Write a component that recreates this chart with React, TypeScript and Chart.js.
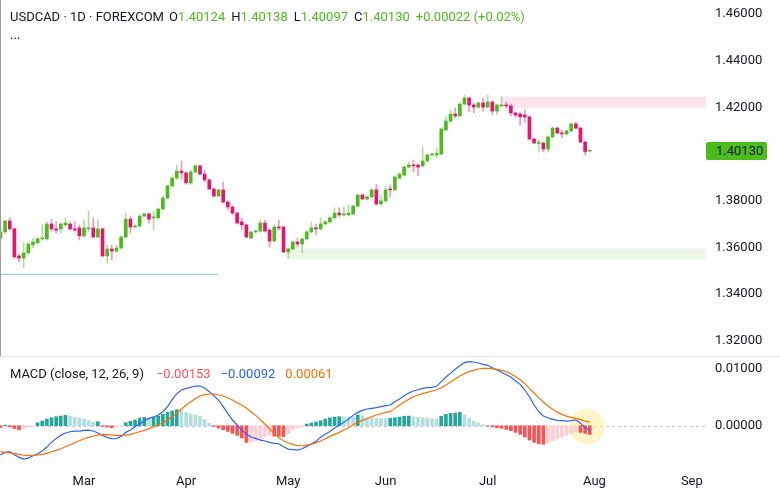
import React, { useEffect, useRef } from 'react';
import { Chart, registerables } from 'chart.js';

Chart.register(...registerables);

// ---------- DATA ----------
const opens = [
  1.3640, 1.3666, 1.3713, 1.3679, 1.3563, 1.3554, 1.3576, 1.3610, 1.3619, 1.3636,
  1.3636, 1.3700, 1.3679, 1.3679, 1.3696, 1.3700, 1.3679, 1.3683, 1.3649, 1.3679,
  1.3683, 1.3644, 1.3679, 1.3563, 1.3593, 1.3584, 1.3597, 1.3644, 1.3721, 1.3687,
  1.3691, 1.3734, 1.3743, 1.3726, 1.3726, 1.3764, 1.3811, 1.3863, 1.3897, 1.3927,
  1.3919, 1.3876, 1.3923, 1.3949, 1.3914, 1.3889, 1.3850, 1.3820, 1.3846, 1.3794,
  1.3773, 1.3747, 1.3709, 1.3696, 1.3640, 1.3666, 1.3670, 1.3704, 1.3674, 1.3627,
  1.3687, 1.3687, 1.3580, 1.3593, 1.3623, 1.3614, 1.3636, 1.3666, 1.3683, 1.3679,
  1.3700, 1.3709, 1.3726, 1.3747, 1.3739, 1.3739, 1.3743, 1.3777, 1.3824, 1.3807,
  1.3816, 1.3846, 1.3786, 1.3799, 1.3850, 1.3846, 1.3897, 1.3910, 1.3944, 1.3953,
  1.3953, 1.3949, 1.3970, 1.3996, 1.3996, 1.4000, 1.4103, 1.4141, 1.4171, 1.4163,
  1.4214, 1.4240, 1.4210, 1.4201, 1.4219, 1.4201, 1.4223, 1.4184, 1.4206, 1.4210,
  1.4206, 1.4176, 1.4171, 1.4167, 1.4159, 1.4064, 1.4045, 1.4047, 1.4021, 1.4073,
  1.4111, 1.4090, 1.4086, 1.4099, 1.4129, 1.4111, 1.4051, 1.40124,
];
const highs = [
  1.3679, 1.3717, 1.3726, 1.3683, 1.3571, 1.3619, 1.3623, 1.3640, 1.3644, 1.3696,
  1.3709, 1.3721, 1.3709, 1.3704, 1.3726, 1.3709, 1.3709, 1.3696, 1.3717, 1.3756,
  1.3726, 1.3717, 1.3683, 1.3610, 1.3610, 1.3610, 1.3649, 1.3747, 1.3734, 1.3696,
  1.3739, 1.3747, 1.3747, 1.3756, 1.3769, 1.3820, 1.3867, 1.3901, 1.3953, 1.3970,
  1.3923, 1.3931, 1.3953, 1.3953, 1.3931, 1.3893, 1.3854, 1.3850, 1.3880, 1.3799,
  1.3777, 1.3751, 1.3726, 1.3700, 1.3670, 1.3674, 1.3717, 1.3717, 1.3679, 1.3696,
  1.3717, 1.3691, 1.3597, 1.3627, 1.3640, 1.3640, 1.3670, 1.3709, 1.3700, 1.3726,
  1.3713, 1.3730, 1.3769, 1.3769, 1.3773, 1.3781, 1.3781, 1.3829, 1.3829, 1.3820,
  1.3850, 1.3871, 1.3824, 1.3863, 1.3867, 1.3906, 1.3919, 1.3949, 1.3966, 1.3974,
  1.3957, 1.4030, 1.4000, 1.4004, 1.4026, 1.4111, 1.4159, 1.4189, 1.4197, 1.4219,
  1.4253, 1.4244, 1.4219, 1.4223, 1.4240, 1.4253, 1.4227, 1.4214, 1.4244, 1.4223,
  1.4214, 1.4180, 1.4180, 1.4189, 1.4163, 1.4069, 1.4060, 1.4051, 1.4077, 1.4116,
  1.4116, 1.4103, 1.4103, 1.4133, 1.4137, 1.4116, 1.4056, 1.40138,
];
const lows = [
  1.3631, 1.3661, 1.3674, 1.3554, 1.3537, 1.3511, 1.3567, 1.3597, 1.3614, 1.3631,
  1.3631, 1.3670, 1.3661, 1.3661, 1.3691, 1.3674, 1.3666, 1.3631, 1.3644, 1.3666,
  1.3640, 1.3640, 1.3559, 1.3533, 1.3546, 1.3580, 1.3593, 1.3640, 1.3661, 1.3683,
  1.3687, 1.3730, 1.3704, 1.3674, 1.3721, 1.3760, 1.3807, 1.3859, 1.3889, 1.3893,
  1.3871, 1.3871, 1.3919, 1.3910, 1.3880, 1.3846, 1.3816, 1.3816, 1.3790, 1.3760,
  1.3739, 1.3700, 1.3674, 1.3640, 1.3636, 1.3661, 1.3666, 1.3666, 1.3601, 1.3623,
  1.3674, 1.3576, 1.3554, 1.3589, 1.3601, 1.3576, 1.3631, 1.3661, 1.3653, 1.3674,
  1.3696, 1.3704, 1.3721, 1.3730, 1.3734, 1.3734, 1.3739, 1.3773, 1.3803, 1.3803,
  1.3811, 1.3781, 1.3781, 1.3794, 1.3816, 1.3841, 1.3893, 1.3906, 1.3940, 1.3923,
  1.3906, 1.3944, 1.3966, 1.3991, 1.3983, 1.3996, 1.4099, 1.4137, 1.4154, 1.4159,
  1.4210, 1.4180, 1.4176, 1.4197, 1.4184, 1.4197, 1.4167, 1.4167, 1.4206, 1.4197,
  1.4163, 1.4159, 1.4124, 1.4137, 1.4060, 1.4043, 1.4009, 1.4009, 1.4009, 1.4069,
  1.4086, 1.4069, 1.4081, 1.4094, 1.4107, 1.4047, 1.3996, 1.40097,
];
const closes = [
  1.3666, 1.3713, 1.3679, 1.3559, 1.3554, 1.3576, 1.3614, 1.3623, 1.3636, 1.3640,
  1.3700, 1.3679, 1.3674, 1.3700, 1.3704, 1.3679, 1.3674, 1.3649, 1.3683, 1.3683,
  1.3644, 1.3679, 1.3563, 1.3593, 1.3584, 1.3597, 1.3644, 1.3721, 1.3687, 1.3691,
  1.3734, 1.3743, 1.3721, 1.3730, 1.3764, 1.3811, 1.3863, 1.3897, 1.3927, 1.3919,
  1.3876, 1.3923, 1.3949, 1.3914, 1.3889, 1.3850, 1.3820, 1.3846, 1.3794, 1.3773,
  1.3747, 1.3704, 1.3696, 1.3644, 1.3666, 1.3670, 1.3704, 1.3670, 1.3627, 1.3687,
  1.3683, 1.3580, 1.3593, 1.3623, 1.3614, 1.3636, 1.3666, 1.3683, 1.3679, 1.3700,
  1.3709, 1.3726, 1.3747, 1.3739, 1.3743, 1.3747, 1.3777, 1.3824, 1.3807, 1.3816,
  1.3846, 1.3786, 1.3799, 1.3846, 1.3846, 1.3901, 1.3914, 1.3944, 1.3953, 1.3949,
  1.3944, 1.3970, 1.3996, 1.4000, 1.4002, 1.4107, 1.4141, 1.4171, 1.4163, 1.4214,
  1.4240, 1.4210, 1.4201, 1.4219, 1.4201, 1.4223, 1.4184, 1.4210, 1.4210, 1.4206,
  1.4176, 1.4167, 1.4159, 1.4159, 1.4064, 1.4047, 1.4047, 1.4021, 1.4073, 1.4111,
  1.4090, 1.4086, 1.4099, 1.4129, 1.4111, 1.4051, 1.40108, 1.40130,
];

const histogram = [
  -0.0003, 0.0001, -0.0002, -0.0005, -0.0007, -0.0004, -0.0002, -0.0001,
  0.00052, 0.00081, 0.00116, 0.00139, 0.00157, 0.00168, 0.00180, 0.00168,
  0.00151, 0.00134, 0.00116, 0.00093, 0.00064, 0.00070, -0.00012, -0.00023,
  -0.00035, -0.00023, -0.00006, 0.00052, 0.00076, 0.00099, 0.00134, 0.00145,
  0.00139, 0.00151, 0.00168, 0.00198, 0.00232, 0.00256, 0.00279, 0.00261,
  0.00227, 0.00203, 0.00186, 0.00163, 0.00105, 0.00046, -0.00012, -0.00041,
  -0.00070, -0.00099, -0.00134, -0.00168, -0.00215, -0.00291, -0.00285, -0.00267,
  -0.00244, -0.00198, -0.00163, -0.00180, -0.00186, -0.00190, -0.00140, -0.00070,
  -0.00040, -0.00020, 0.00029, 0.00046, 0.00064, 0.00087, 0.00116, 0.00139,
  0.00151, 0.00157, 0.00157, 0.00151, 0.00151, 0.00186, 0.00168, 0.00145,
  0.00134, 0.00128, 0.00122, 0.00122, 0.00128, 0.00139, 0.00151, 0.00163,
  0.00168, 0.00157, 0.00145, 0.00139, 0.00128, 0.00122, 0.00116, 0.00163,
  0.00198, 0.00215, 0.00221, 0.00232, 0.00186, 0.00128, 0.00081, 0.00046,
  0.00017, -0.00006, -0.00017, -0.00035, -0.00046, -0.00064, -0.00087, -0.00116,
  -0.00151, -0.00198, -0.00250, -0.00291, -0.00314, -0.00325, -0.00296, -0.00261,
  -0.00227, -0.00198, -0.00168, -0.00139, -0.00105, -0.00116, -0.00134, -0.00153,
];
const macdLine = [
  -0.00511, -0.00465, -0.00453, -0.00505, -0.00552, -0.00581, -0.00564, -0.00523,
  -0.00488, -0.00442, -0.00372, -0.00291, -0.00221, -0.00168, -0.00128, -0.00105,
  -0.00093, -0.00093, -0.00081, -0.00076, -0.00093, -0.00128, -0.00168, -0.00203,
  -0.00227, -0.00227, -0.00186, -0.00116, -0.00076, -0.00017, 0.00035, 0.00087,
  0.00128, 0.00151, 0.00186, 0.00244, 0.00331, 0.00453, 0.00558, 0.00622,
  0.00651, 0.00668, 0.00691, 0.00691, 0.00657, 0.00593, 0.00523, 0.00442,
  0.00331, 0.00215, 0.00099, 0.00012, -0.00076, -0.00145, -0.00198, -0.00221,
  -0.00250, -0.00267, -0.00291, -0.00308, -0.00314, -0.00366, -0.00407, -0.00418,
  -0.00424, -0.00401, -0.00360, -0.00320, -0.00273, -0.00203, -0.00151, -0.00099,
  -0.00041, 0.00006, 0.00058, 0.00116, 0.00180, 0.00232, 0.00267, 0.00291,
  0.00302, 0.00314, 0.00331, 0.00349, 0.00360, 0.00418, 0.00465, 0.00523,
  0.00569, 0.00604, 0.00627, 0.00651, 0.00662, 0.00668, 0.00686, 0.00767,
  0.00848, 0.00912, 0.00982, 0.01046, 0.01098, 0.01116, 0.01110, 0.01092,
  0.01069, 0.01052, 0.01011, 0.00970, 0.00930, 0.00889, 0.00848, 0.00779,
  0.00720, 0.00622, 0.00505, 0.00360, 0.00244, 0.00168, 0.00139, 0.00110,
  0.00093, 0.00087, 0.00081, 0.00087, 0.00099, 0.00041, -0.00029, -0.00092,
];
const signalLine = [
  -0.00453, -0.00465, -0.00476, -0.00488, -0.00500, -0.00511, -0.00517, -0.00523,
  -0.00511, -0.00500, -0.00482, -0.00453, -0.00430, -0.00401, -0.00366, -0.00331,
  -0.00296, -0.00261, -0.00227, -0.00203, -0.00180, -0.00163, -0.00151, -0.00157,
  -0.00163, -0.00168, -0.00174, -0.00163, -0.00151, -0.00128, -0.00105, -0.00081,
  -0.00052, -0.00023, 0.00012, 0.00052, 0.00099, 0.00157, 0.00221, 0.00285,
  0.00360, 0.00418, 0.00471, 0.00517, 0.00540, 0.00552, 0.00552, 0.00535,
  0.00517, 0.00482, 0.00447, 0.00401, 0.00360, 0.00308, 0.00244, 0.00180,
  0.00105, 0.00029, -0.00058, -0.00134, -0.00209, -0.00261, -0.00302, -0.00325,
  -0.00349, -0.00349, -0.00337, -0.00325, -0.00296, -0.00267, -0.00227, -0.00186,
  -0.00151, -0.00116, -0.00076, -0.00035, 0.00012, 0.00058, 0.00093, 0.00122,
  0.00157, 0.00186, 0.00209, 0.00232, 0.00244, 0.00302, 0.00360, 0.00413,
  0.00459, 0.00505, 0.00535, 0.00558, 0.00581, 0.00604, 0.00627, 0.00662,
  0.00709, 0.00761, 0.00813, 0.00866, 0.00906, 0.00941, 0.00964, 0.00988,
  0.00999, 0.00999, 0.00994, 0.00982, 0.00964, 0.00941, 0.00906, 0.00854,
  0.00802, 0.00732, 0.00651, 0.00569, 0.00488, 0.00413, 0.00343, 0.00285,
  0.00232, 0.00198, 0.00168, 0.00145, 0.00122, 0.00105, 0.00081, 0.00061,
];

const monthLabels = ['Mar', 'Apr', 'May', 'Jun', 'Jul', 'Aug', 'Sep'];
const monthTickIndex = [18, 40, 62, 83, 105, 128, 149];
const priceTicks = [1.32, 1.34, 1.36, 1.38, 1.42, 1.44, 1.46];
const macdTicks = [0, 0.01];

// zones / levels (data space)
const resistanceZone = [1.4198, 1.4246];
const resistanceStartIndex = 108;
const supportZone = [1.3550, 1.3596];
const supportStartIndex = 62;
const lowLevelPrice = 1.3484;
const lowLevelRange = [-0.1, 46.8];

// ---------- STYLE ----------
const X_MIN = -0.1;
const X_MAX = 152.05;
const UP = '#4cbb1c';
const DOWN = '#ea136c';
const UP_WICK = 'rgba(76,187,28,0.45)';
const DOWN_WICK = 'rgba(234,19,108,0.45)';
const TEXT = '#131722';
const FONT = 'Roboto';

const fmt = (v: number) => (v < 0 ? '\u2212' : '') + Math.abs(v).toFixed(5);

const mainDecor = {
  id: 'mainDecor',
  beforeDatasetsDraw(chart: any) {
    const { ctx, chartArea, scales } = chart;
    const x = scales.x, y = scales.y;
    ctx.save();
    const zone = (start: number, lo: number, hi: number, color: string) => {
      const x0 = x.getPixelForValue(start);
      const y0 = y.getPixelForValue(hi);
      const y1 = y.getPixelForValue(lo);
      ctx.fillStyle = color;
      ctx.fillRect(x0, y0, chartArea.right - x0, y1 - y0);
    };
    zone(resistanceStartIndex, resistanceZone[0], resistanceZone[1], '#fce3ee');
    zone(supportStartIndex, supportZone[0], supportZone[1], '#edf7e6');
    ctx.restore();
  },
  afterDraw(chart: any) {
    const { ctx, chartArea, scales } = chart;
    const y = scales.y;
    const last = closes[closes.length - 1];
    const py = y.getPixelForValue(last);
    ctx.save();
    ctx.fillStyle = UP;
    const bx = chartArea.right, bw = 61, bh = 18;
    ctx.beginPath();
    (ctx as any).roundRect ? ctx.roundRect(bx, py - bh / 2, bw, bh, 2) : ctx.rect(bx, py - bh / 2, bw, bh);
    ctx.fill();
    ctx.fillStyle = TEXT;
    ctx.font = `13px ${FONT}`;
    ctx.textBaseline = 'middle';
    ctx.textAlign = 'left';
    ctx.fillText(last.toFixed(5), bx + 10, py + 0.5);
    ctx.restore();
  },
};

const macdDecor = {
  id: 'macdDecor',
  beforeDatasetsDraw(chart: any) {
    const { ctx, chartArea, scales } = chart;
    const x = scales.x, y = scales.y;
    ctx.save();
    const y0 = Math.round(y.getPixelForValue(0)) + 0.5;
    ctx.strokeStyle = '#c3c6ce';
    ctx.lineWidth = 1;
    ctx.setLineDash([3, 3]);
    ctx.beginPath();
    ctx.moveTo(chartArea.left, y0);
    ctx.lineTo(chartArea.right, y0);
    ctx.stroke();
    ctx.setLineDash([]);
    const li = macdLine.length - 1;
    const cx = x.getPixelForValue(li) - 3;
    const cy = y.getPixelForValue((macdLine[li] + signalLine[li]) / 2);
    ctx.fillStyle = 'rgba(255,232,130,0.45)';
    ctx.beginPath();
    ctx.arc(cx, cy, 18, 0, Math.PI * 2);
    ctx.fill();
    ctx.restore();
  },
};

export default function App() {
  const mainRef = useRef<HTMLCanvasElement>(null);
  const macdRef = useRef<HTMLCanvasElement>(null);

  useEffect(() => {
    document.body.style.margin = '0';
    Chart.defaults.font.family = FONT;
    const idx = opens.map((_, i) => i);
    const isUp = idx.map((i) => closes[i] >= opens[i]);

    const main = new Chart(mainRef.current!, {
      type: 'bar',
      data: {
        datasets: [
          {
            type: 'bar',
            label: 'body',
            data: idx.map((i) => ({ x: i, y: [opens[i], closes[i]] })) as any,
            backgroundColor: isUp.map((u) => (u ? UP : DOWN)),
            barThickness: 3,
            minBarLength: 1,
            grouped: false,
            order: 1,
          } as any,
          {
            type: 'bar',
            label: 'wick',
            data: idx.map((i) => ({ x: i, y: [lows[i], highs[i]] })) as any,
            backgroundColor: isUp.map((u) => (u ? UP_WICK : DOWN_WICK)),
            barThickness: 1,
            grouped: false,
            order: 2,
          } as any,
          {
            type: 'line',
            label: 'level',
            data: lowLevelRange.map((v) => ({ x: v, y: lowLevelPrice })),
            borderColor: '#7fcbc2',
            borderWidth: 1,
            pointRadius: 0,
            order: 3,
          } as any,
        ],
      },
      options: {
        animation: false,
        responsive: false,
        events: [],
        layout: { padding: 0 },
        plugins: { legend: { display: false }, tooltip: { enabled: false } },
        scales: {
          x: {
            type: 'linear',
            min: X_MIN,
            max: X_MAX,
            offset: false,
            display: false,
          },
          y: {
            position: 'right',
            min: 1.31342,
            max: 1.466,
            grid: { display: false, drawTicks: false },
            border: { display: false },
            ticks: {
              padding: 9,
              color: TEXT,
              font: { family: FONT, size: 13 },
              callback: (v: any) => Number(v).toFixed(5),
            },
            afterBuildTicks: (s: any) => {
              s.ticks = priceTicks.map((v) => ({ value: v }));
            },
            afterFit: (s: any) => {
              s.width = 74;
              s.paddingTop = 0;
              s.paddingBottom = 0;
            },
          },
        },
      } as any,
      plugins: [mainDecor],
    });

    const histColors = histogram.map((v, i) => {
      const prev = i > 0 ? histogram[i - 1] : v;
      if (v >= 0) return prev < v ? '#26a69a' : '#b2dfdb';
      return prev < v ? '#ffcdd2' : '#ff5252';
    });

    const macd = new Chart(macdRef.current!, {
      type: 'bar',
      data: {
        datasets: [
          {
            type: 'line',
            label: 'Signal',
            data: idx.map((i) => ({ x: i, y: signalLine[i] })),
            borderColor: '#ff6d00',
            borderWidth: 1.2,
            pointRadius: 0,
            order: 1,
          } as any,
          {
            type: 'line',
            label: 'MACD',
            data: idx.map((i) => ({ x: i, y: macdLine[i] })),
            borderColor: '#2962ff',
            borderWidth: 1.2,
            pointRadius: 0,
            order: 2,
          } as any,
          {
            type: 'bar',
            label: 'Histogram',
            data: idx.map((i) => ({ x: i, y: histogram[i] })),
            backgroundColor: histColors,
            barThickness: 3,
            grouped: false,
            order: 3,
          } as any,
        ],
      },
      options: {
        animation: false,
        responsive: false,
        events: [],
        layout: { padding: 0 },
        plugins: { legend: { display: false }, tooltip: { enabled: false } },
        scales: {
          x: {
            type: 'linear',
            min: X_MIN,
            max: X_MAX,
            offset: false,
            grid: { display: false, drawTicks: false },
            border: { display: false },
            ticks: {
              autoSkip: false,
              maxRotation: 0,
              padding: 9,
              color: TEXT,
              font: { family: FONT, size: 13 },
              callback: (_v: any, i: number) => monthLabels[i],
            },
            afterBuildTicks: (s: any) => {
              s.ticks = monthTickIndex.map((v) => ({ value: v }));
            },
            afterFit: (s: any) => {
              s.height = 32;
              s.paddingLeft = 0;
              s.paddingRight = 0;
            },
          },
          y: {
            position: 'right',
            min: -0.006847,
            max: 0.011969,
            grid: { display: false, drawTicks: false },
            border: { display: false },
            ticks: {
              padding: 9,
              color: TEXT,
              font: { family: FONT, size: 13 },
              callback: (v: any) => Number(v).toFixed(5),
            },
            afterBuildTicks: (s: any) => {
              s.ticks = macdTicks.map((v) => ({ value: v }));
            },
            afterFit: (s: any) => {
              s.width = 74;
              s.paddingTop = 0;
              s.paddingBottom = 0;
            },
          },
        },
      } as any,
      plugins: [macdDecor],
    });

    return () => {
      main.destroy();
      macd.destroy();
    };
  }, []);

  const n = closes.length - 1;
  const chg = closes[n] - closes[n - 1];
  const pct = (chg / closes[n - 1]) * 100;
  const G = UP;
  const legendStyle: React.CSSProperties = {
    position: 'absolute',
    left: 10,
    fontFamily: FONT,
    fontSize: 13,
    lineHeight: '17px',
    color: TEXT,
    whiteSpace: 'nowrap',
  };

  return (
    <div style={{ position: 'relative', width: 780, height: 497, background: '#fff', overflow: 'hidden' }}>
      <canvas ref={mainRef} width={780} height={356} style={{ position: 'absolute', left: 0, top: 0 }} />
      <div style={{ position: 'absolute', left: 0, top: 356, width: 780, height: 1, background: '#e0e3eb' }} />
      <div style={{ position: 'absolute', left: 0, top: 0, width: 1, height: 356, background: '#9a9da6' }} />
      <canvas ref={macdRef} width={780} height={140} style={{ position: 'absolute', left: 0, top: 357 }} />
      <div style={{ ...legendStyle, top: 8 }}>
        <span>USDCAD · 1D · FOREXCOM</span>
        <span style={{ marginLeft: 5 }}>O<span style={{ color: G }}>{opens[n].toFixed(5)}</span></span>
        <span style={{ marginLeft: 6 }}>H<span style={{ color: G }}>{highs[n].toFixed(5)}</span></span>
        <span style={{ marginLeft: 6 }}>L<span style={{ color: G }}>{lows[n].toFixed(5)}</span></span>
        <span style={{ marginLeft: 6 }}>C<span style={{ color: G }}>{closes[n].toFixed(5)}</span></span>
        <span style={{ marginLeft: 6, color: G }}>
          {(chg >= 0 ? '+' : '\u2212') + Math.abs(chg).toFixed(5)} ({(pct >= 0 ? '+' : '\u2212') + Math.abs(pct).toFixed(2)}%)
        </span>
      </div>
      <div style={{ ...legendStyle, top: 26 }}>...</div>
      <div style={{ ...legendStyle, top: 365 }}>
        <span>MACD (close, 12, 26, 9)</span>
        <span style={{ marginLeft: 12, color: '#ff5252' }}>{fmt(histogram[n])}</span>
        <span style={{ marginLeft: 10, color: '#2962ff' }}>{fmt(macdLine[n])}</span>
        <span style={{ marginLeft: 10, color: '#ff6d00' }}>{fmt(signalLine[n])}</span>
      </div>
    </div>
  );
}
